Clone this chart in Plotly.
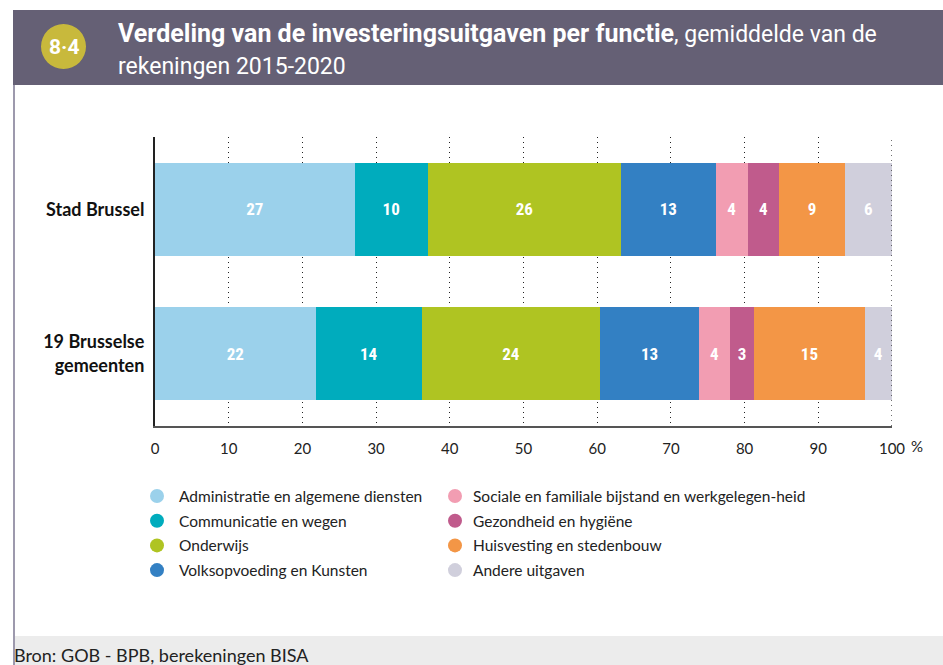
import plotly.graph_objects as go

# Categories (top to bottom as drawn) and functional breakdown in % of investment spending
entities = ["19 Brusselse<br>gemeenten", "Stad Brussel"]
functions = [
    "Administratie en algemene diensten",
    "Communicatie en wegen",
    "Onderwijs",
    "Volksopvoeding en Kunsten",
    "Sociale en familiale bijstand en werkgelegen-heid",
    "Gezondheid en hygiëne",
    "Huisvesting en stedenbouw",
    "Andere uitgaven",
]
colors = ["#9bd1eb", "#00acbd", "#afc422", "#3380c3",
          "#f29db2", "#c05b8c", "#f39646", "#d0cfdc"]

# share per function: [19 Brusselse gemeenten, Stad Brussel]
admin = [21.8, 27.1]
communicatie = [14.4, 9.9]
onderwijs = [24.2, 26.2]
volksopvoeding = [13.4, 12.9]
sociale = [4.2, 4.3]
gezondheid = [3.3, 4.3]
huisvesting = [15.0, 8.9]
andere = [3.7, 6.4]
series = [admin, communicatie, onderwijs, volksopvoeding,
          sociale, gezondheid, huisvesting, andere]

x_ticks = list(range(0, 101, 10))

W, H = 943, 665
L, R, T, B = 155, 892, 137, 426


def px(x):
    return (x - L) / (R - L)


def py(y):
    return (B - y) / (B - T)


fig = go.Figure()
for name, vals, col in zip(functions, series, colors):
    fig.add_trace(go.Bar(
        y=entities, x=vals, name=name, orientation="h",
        marker=dict(color=col, line=dict(width=0)),
        width=0.645,
        text=vals, texttemplate="%{x:.0f}",
        textposition="inside", insidetextanchor="middle",
        textangle=0, constraintext="none",
        textfont=dict(family="Liberation Sans Narrow, Roboto Condensed, Roboto",
                      size=17, color="white", weight="bold"),
        showlegend=False,
        hoverinfo="skip",
    ))

shapes = []
annotations = []

# header band
shapes.append(dict(type="rect", xref="paper", yref="paper",
                   x0=px(13), x1=px(943), y0=py(10), y1=py(85),
                   fillcolor="#656075", line=dict(width=0), layer="below"))
# number badge
shapes.append(dict(type="circle", xref="paper", yref="paper",
                   x0=px(41), x1=px(86), y0=py(24), y1=py(69),
                   fillcolor="#c8b93c", line=dict(width=0)))
# left border
shapes.append(dict(type="line", xref="paper", yref="paper",
                   x0=px(14), x1=px(14), y0=py(85), y1=py(665),
                   line=dict(color="#9d99ad", width=2)))
# footer band
shapes.append(dict(type="rect", xref="paper", yref="paper",
                   x0=px(15), x1=px(943), y0=py(636), y1=py(665),
                   fillcolor="#ececec", line=dict(width=0), layer="below"))
# dotted line at 100 %
shapes.append(dict(type="line", xref="x", yref="paper",
                   x0=100, x1=100, y0=0, y1=1,
                   line=dict(color="#222222", width=1.3, dash="1px,4px"), layer="above"))

annotations.append(dict(xref="paper", yref="paper", x=px(63.5), y=py(47),
                        xanchor="center", yanchor="middle",
                        text="<b>8·4</b>", showarrow=False,
                        font=dict(family="Roboto", size=21, color="white")))
annotations.append(dict(xref="paper", yref="paper", x=px(116), y=py(33),
                        xanchor="left", yanchor="middle", showarrow=False,
                        text="<span style='font-size:25px'><b>Verdeling van de investeringsuitgaven per functie</b></span>, gemiddelde van de",
                        font=dict(family="Roboto", size=23, color="white")))
annotations.append(dict(xref="paper", yref="paper", x=px(116), y=py(66),
                        xanchor="left", yanchor="middle", showarrow=False,
                        text="rekeningen 2015-2020",
                        font=dict(family="Roboto", size=23, color="white")))
annotations.append(dict(xref="paper", yref="paper", x=px(909), y=py(446),
                        xanchor="left", yanchor="middle", showarrow=False,
                        text="%", font=dict(family="Lato", size=15, color="#222222")))
annotations.append(dict(xref="paper", yref="paper", x=px(12), y=py(655),
                        xanchor="left", yanchor="middle", showarrow=False,
                        text="Bron: GOB - BPB, berekeningen BISA",
                        font=dict(family="Lato", size=18, color="#222222")))

# legend: two columns of four
for i, (name, col) in enumerate(zip(functions, colors)):
    col_i, row_i = divmod(i, 4)
    cx = 157 if col_i == 0 else 455
    tx = 177 if col_i == 0 else 471
    cy = 496 + row_i * 24.7
    shapes.append(dict(type="circle", xref="paper", yref="paper",
                       x0=px(cx - 7), x1=px(cx + 7), y0=py(cy - 7), y1=py(cy + 7),
                       fillcolor=col, line=dict(width=0)))
    annotations.append(dict(xref="paper", yref="paper", x=px(tx), y=py(cy),
                            xanchor="left", yanchor="middle", showarrow=False,
                            text=name, font=dict(family="Lato", size=15.5, color="#222222")))

fig.update_layout(
    width=W, height=H,
    margin=dict(l=L, r=W - R, t=T, b=H - B),
    barmode="stack",
    paper_bgcolor="white", plot_bgcolor="white",
    shapes=shapes, annotations=annotations,
    xaxis=dict(range=[0, 100], tickvals=x_ticks, ticktext=[str(v) for v in x_ticks],
               showgrid=True, gridcolor="#222222", griddash="1px,4px", gridwidth=1.3,
               showline=True, linecolor="#555555", linewidth=2,
               zeroline=False, ticks="", ticklabelstandoff=8,
               tickfont=dict(family="Lato", size=15, color="#222222"), fixedrange=True),
    yaxis=dict(range=[-0.5, 1.5], showgrid=False, zeroline=False,
               showline=True, linecolor="#222222", linewidth=2,
               ticks="", ticklabelstandoff=5,
               tickfont=dict(family="Lato", size=18, color="#111111", weight="bold"),
               fixedrange=True),
)

fig.write_html("out.html")
